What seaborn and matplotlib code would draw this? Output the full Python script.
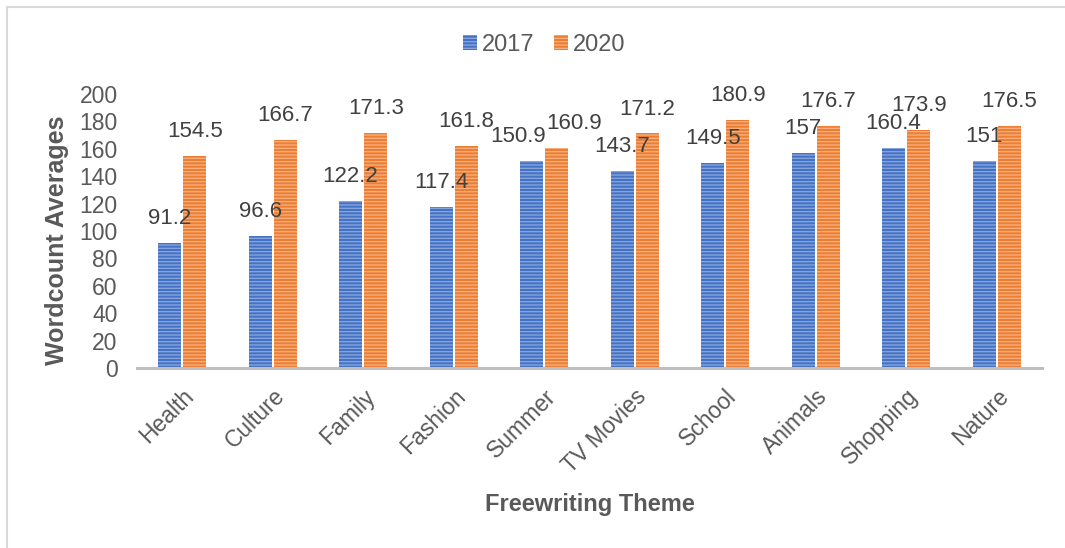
import matplotlib
matplotlib.use("Agg")
import matplotlib.pyplot as plt
import seaborn as sns
import pandas as pd
from matplotlib.patches import Rectangle

themes = ["Health", "Culture", "Family", "Fashion", "Summer",
          "TV Movies", "School", "Animals", "Shopping", "Nature"]
avg_2017 = [91.2, 96.6, 122.2, 117.4, 150.9, 143.7, 149.5, 157, 160.4, 151]
avg_2020 = [154.5, 166.7, 171.3, 161.8, 160.9, 171.2, 180.9, 176.7, 173.9, 176.5]
years = ["2017", "2020"]
y_ticks = [0, 20, 40, 60, 80, 100, 120, 140, 160, 180, 200]

df = pd.DataFrame({
    "Theme": themes * 2,
    "Year": [years[0]] * len(themes) + [years[1]] * len(themes),
    "Average": avg_2017 + avg_2020,
})

sns.set_theme(style="white")
plt.rcParams["font.family"] = ["Liberation Sans", "DejaVu Sans"]
plt.rcParams["hatch.linewidth"] = 1.0

text_gray = "#595959"
fills = {"2017": "#4472C4", "2020": "#ED7D31"}
stripes = {"2017": "#86A3DC", "2020": "#F5AE7C"}
# sideways nudges (points) for value labels that would otherwise collide
label_nudge = {("Summer", "2017"): -10, ("Summer", "2020"): 12}

fig = plt.figure(figsize=(10.65, 5.48), dpi=100)
ax = fig.add_axes([137 / 1065, 1 - 368 / 548, 905 / 1065, 274 / 548])

sns.barplot(data=df, x="Theme", y="Average", hue="Year", order=themes,
            hue_order=years, palette=fills, width=0.56, gap=0.09,
            saturation=1, errorbar=None, ax=ax, legend=False)

# striped fill: light horizontal hatch lines over the solid colour
for container, yr in zip(ax.containers, years):
    for bar in container:
        bar.set_hatch("-----")
        bar.set_edgecolor(stripes[yr])
        bar.set_linewidth(0)
    labels = [f"{v:g}" for v in container.datavalues]
    texts = ax.bar_label(container, labels=labels, padding=10, fontsize=16,
                         color="#404040")
    for theme, t in zip(themes, texts):
        dx = label_nudge.get((theme, yr), 0)
        if dx:
            t.xyann = (t.xyann[0] + dx, t.xyann[1])

ax.set_ylim(0, 200)
ax.set_xlim(-0.5, len(themes) - 0.5)
ax.set_yticks(y_ticks)
ax.tick_params(axis="y", labelsize=16.5, labelcolor=text_gray, length=0, pad=14)
ax.tick_params(axis="x", labelsize=16.5, labelcolor=text_gray, length=0, pad=12)
plt.setp(ax.get_xticklabels(), rotation=45, ha="right", rotation_mode="anchor")

for side in ["top", "right", "left"]:
    ax.spines[side].set_visible(False)
ax.spines["bottom"].set_color("#BFBFBF")
ax.spines["bottom"].set_linewidth(2.2)

ax.set_ylabel("Wordcount Averages", fontsize=18, fontweight="bold",
              color=text_gray, va="center")
ax.yaxis.set_label_coords(-0.088, 0.467)
ax.set_xlabel("Freewriting Theme", fontsize=17, fontweight="bold",
              color=text_gray, va="center")
ax.xaxis.set_label_coords(0.5, -0.5)

handles = [Rectangle((0, 0), 1, 1, facecolor=fills[y], edgecolor=stripes[y],
                     hatch="-----", linewidth=0) for y in years]
fig.legend(handles, years, loc="center", bbox_to_anchor=(544 / 1065, 1 - 45 / 548),
           ncol=2, frameon=False, fontsize=17, handlelength=0.6,
           handleheight=0.6, handletextpad=0.2, columnspacing=0.8,
           labelcolor=text_gray)

# light chart-area border
fig.add_artist(Rectangle((7 / 1065, -0.1), 1.2, 1 - 7 / 548 + 0.1,
                         transform=fig.transFigure, fill=False,
                         edgecolor="#D9D9D9", linewidth=1.5))

fig.savefig("out.png", dpi=100)
